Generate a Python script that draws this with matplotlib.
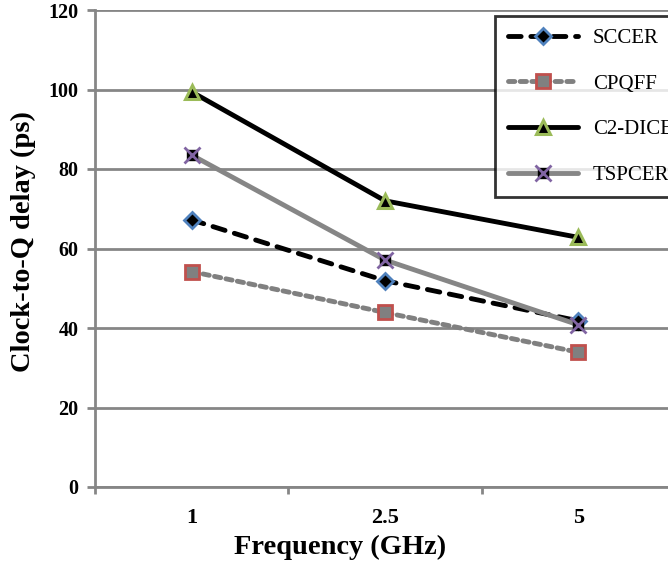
import matplotlib
matplotlib.use("Agg")
import matplotlib.pyplot as plt

# data
freqs = ["1", "2.5", "5"]
sccer = [67.2, 51.9, 41.8]
cpqff = [54.2, 43.9, 33.9]
c2dice = [99.4, 72.0, 62.8]
tspcer = [83.5, 57.1, 40.8]

plt.rcParams["font.family"] = ["Liberation Serif", "DejaVu Serif"]

fig = plt.figure(figsize=(6.68, 5.67), dpi=100)
ax = fig.add_axes([95 / 668, 1 - 487 / 567, 580 / 668, 477 / 567])

xs = [i + 0.5 for i in range(len(freqs))]
grid_c = "#868686"

l1, = ax.plot(xs, sccer, color="black", lw=3.5, dashes=(2.6, 2.0),
              dash_capstyle="round", marker="D", ms=8, mfc="black",
              mec="#4F81BD", mew=2, zorder=5)
l2, = ax.plot(xs, cpqff, color="#808080", lw=3.5, dashes=(1.3, 1.1),
              dash_capstyle="round", marker="s", ms=10, mfc="#808080",
              mec="#C0504D", mew=2, zorder=4)
l3, = ax.plot(xs, c2dice, color="black", lw=3.5, solid_capstyle="round",
              marker="^", ms=10, mfc="black", mec="#9BBB59", mew=2.2, zorder=5)
l4, = ax.plot(xs, tspcer, color="#868686", lw=3.5, solid_capstyle="round",
              marker="s", ms=7, mfc="black", mec="black", mew=1, zorder=6)
l4x, = ax.plot(xs, tspcer, ls="none", marker="x", ms=11, mec="#8064A2",
               mew=2, zorder=7)

ax.set_xlim(0, 3)
ax.set_ylim(0, 120)
ax.set_yticks(range(0, 121, 20))
ax.yaxis.grid(True, color=grid_c, lw=2)
ax.set_axisbelow(True)

ax.set_xticks([0, 1, 2, 3])
ax.set_xticklabels([])
ax.set_xticks(xs, minor=True)
ax.set_xticklabels(freqs, minor=True, fontsize=16, fontweight="bold")
ax.tick_params(axis="x", which="minor", length=0, pad=15)
ax.tick_params(axis="x", which="major", length=5, width=2, color=grid_c)
ax.tick_params(axis="y", length=6, width=2, color=grid_c, pad=6)
for lab in ax.get_yticklabels():
    lab.set_fontsize(14.5)
    lab.set_fontweight("bold")

for s in ["top", "right"]:
    ax.spines[s].set_visible(False)
for s in ["left", "bottom"]:
    ax.spines[s].set_color(grid_c)
    ax.spines[s].set_linewidth(2)

ax.set_xlabel("Frequency (GHz)", fontsize=20.5, fontweight="bold", labelpad=5)
ax.set_ylabel("Clock-to-Q delay (ps)", fontsize=20.5, fontweight="bold", labelpad=9)
# title centres sit left of / above the plot-area centre in the original
ax.xaxis.label.set_x(0.422)
ax.yaxis.label.set_y(0.514)

leg = fig.legend([l1, l2, l3, (l4, l4x)], ["SCCER", "CPQFF", "C2-DICE", "TSPCER"],
                 loc="upper left", bbox_to_anchor=(495 / 668, 1 - 16 / 567),
                 fontsize=15, frameon=True, fancybox=False, handlelength=3.4,
                 labelspacing=1.25, borderpad=0.6, handletextpad=0.7,
                 borderaxespad=0)
leg.get_frame().set_edgecolor("black")
leg.get_frame().set_linewidth(2)

fig.savefig("out.png", dpi=100)
